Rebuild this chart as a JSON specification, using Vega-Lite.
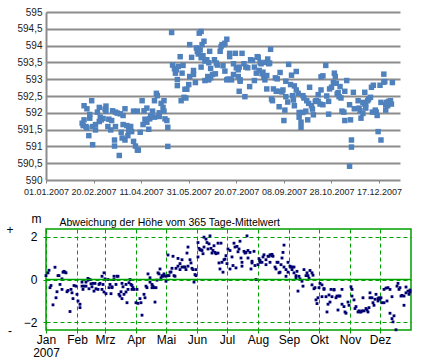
{
  "$schema": "https://vega.github.io/schema/vega-lite/v6.json",
  "background": "white",
  "padding": {"left": 5, "top": 7, "right": 5, "bottom": 5},
  "bounds": "flush",
  "spacing": 49,
  "config": {"view": {"stroke": null}, "font": "Liberation Sans"},
  "datasets": {
    "level": [
      {"day":38,"level":591.69},{"day":40,"level":592.21},{"day":43,"level":592.12},{"day":40,"level":591.79},{"day":39,"level":591.62},
      {"day":42,"level":591.59},{"day":43,"level":591.55},{"day":46,"level":591.84},{"day":46,"level":591.95},{"day":48,"level":592.36},
      {"day":45,"level":591.32},{"day":49,"level":591.59},{"day":49,"level":591.05},{"day":52,"level":591.49},{"day":52,"level":591.65},
      {"day":54,"level":592.02},{"day":56,"level":592.16},{"day":56,"level":591.74},{"day":57,"level":591.87},{"day":58,"level":591.79},
      {"day":60,"level":591.83},{"day":62,"level":592.11},{"day":63,"level":592.2},{"day":63,"level":592.05},{"day":65,"level":591.59},
      {"day":66,"level":591.81},{"day":68,"level":591.49},{"day":69,"level":591.77},{"day":70,"level":592.06},{"day":72,"level":591.19},
      {"day":72,"level":591.01},{"day":73,"level":591.59},{"day":73,"level":592.02},{"day":75,"level":591.99},{"day":77,"level":590.73},
      {"day":78,"level":591.97},{"day":79,"level":591.42},{"day":80,"level":591.25},{"day":81,"level":591.65},{"day":81,"level":591.92},
      {"day":83,"level":592.12},{"day":83,"level":591.19},{"day":85,"level":591.62},{"day":86,"level":591.32},{"day":87,"level":591.47},
      {"day":88,"level":591.59},{"day":89,"level":591.59},{"day":90,"level":591.44},{"day":92,"level":592.05},{"day":92,"level":591.15},
      {"day":94,"level":591.01},{"day":96,"level":590.89},{"day":97,"level":590.89},{"day":96,"level":592.05},{"day":99,"level":591.42},
      {"day":101,"level":592.36},{"day":102,"level":591.65},{"day":104,"level":591.81},{"day":103,"level":592.06},{"day":106,"level":592.14},
      {"day":106,"level":591.72},{"day":108,"level":591.51},{"day":109,"level":591.82},{"day":110,"level":591.9},{"day":111,"level":591.92},
      {"day":112,"level":592.05},{"day":114,"level":591.87},{"day":114,"level":592.36},{"day":116,"level":592.58},{"day":117,"level":592.51},
      {"day":119,"level":591.89},{"day":119,"level":592.0},{"day":121,"level":592.28},{"day":123,"level":592.16},{"day":124,"level":592.36},
      {"day":125,"level":591.82},{"day":124,"level":592.05},{"day":127,"level":591.77},{"day":128,"level":591.57},{"day":128,"level":591.0},
      {"day":132,"level":594.39},{"day":133,"level":593.42},{"day":135,"level":593.31},{"day":136,"level":593.18},{"day":137,"level":593.28},
      {"day":139,"level":593.38},{"day":141,"level":593.67},{"day":143,"level":593.18},{"day":144,"level":593.41},{"day":138,"level":592.81},
      {"day":138,"level":592.99},{"day":142,"level":592.36},{"day":146,"level":592.7},{"day":148,"level":592.7},{"day":145,"level":592.46},
      {"day":147,"level":592.44},{"day":150,"level":592.84},{"day":151,"level":593.08},{"day":153,"level":593.65},{"day":151,"level":594.03},
      {"day":155,"level":593.26},{"day":155,"level":593.14},{"day":157,"level":592.9},{"day":158,"level":593.93},{"day":159,"level":593.83},
      {"day":160,"level":593.75},{"day":161,"level":594.37},{"day":163,"level":594.42},{"day":162,"level":593.87},{"day":160,"level":593.89},
      {"day":164,"level":594.03},{"day":165,"level":593.7},{"day":166,"level":594.13},{"day":163,"level":593.64},{"day":163,"level":593.36},
      {"day":167,"level":593.54},{"day":169,"level":593.58},{"day":171,"level":593.49},{"day":172,"level":593.83},{"day":173,"level":593.32},
      {"day":167,"level":592.96},{"day":170,"level":593.08},{"day":171,"level":592.98},{"day":173,"level":593.04},{"day":175,"level":593.14},
      {"day":177,"level":593.58},{"day":178,"level":593.16},{"day":179,"level":593.48},{"day":180,"level":593.42},{"day":183,"level":593.83},
      {"day":184,"level":593.97},{"day":186,"level":593.4},{"day":185,"level":594.03},{"day":187,"level":594.03},{"day":188,"level":594.07},
      {"day":190,"level":594.19},{"day":188,"level":593.24},{"day":190,"level":592.98},{"day":191,"level":593.0},{"day":193,"level":593.77},
      {"day":193,"level":593.67},{"day":193,"level":593.0},{"day":195,"level":592.98},{"day":197,"level":593.46},{"day":197,"level":593.14},
      {"day":199,"level":593.77},{"day":200,"level":593.34},{"day":202,"level":593.28},{"day":203,"level":593.36},{"day":202,"level":593.08},
      {"day":204,"level":592.98},{"day":204,"level":592.94},{"day":203,"level":592.64},{"day":206,"level":593.77},{"day":208,"level":593.46},
      {"day":210,"level":593.36},{"day":209,"level":592.48},{"day":212,"level":593.34},{"day":214,"level":592.78},{"day":215,"level":593.58},
      {"day":217,"level":593.56},{"day":219,"level":592.96},{"day":219,"level":593.36},{"day":221,"level":593.18},{"day":222,"level":593.67},
      {"day":223,"level":593.65},{"day":224,"level":593.26},{"day":225,"level":593.5},{"day":226,"level":593.46},{"day":227,"level":593.16},
      {"day":228,"level":593.21},{"day":229,"level":593.06},{"day":230,"level":592.98},{"day":231,"level":593.5},{"day":232,"level":593.11},
      {"day":233,"level":593.6},{"day":234,"level":593.46},{"day":236,"level":593.89},{"day":235,"level":593.48},{"day":232,"level":592.71},
      {"day":237,"level":592.41},{"day":238,"level":592.36},{"day":239,"level":592.71},{"day":241,"level":593.04},{"day":242,"level":592.64},
      {"day":243,"level":593.01},{"day":245,"level":592.64},{"day":245,"level":592.18},{"day":246,"level":593.2},{"day":248,"level":592.62},
      {"day":249,"level":592.68},{"day":250,"level":591.77},{"day":251,"level":592.08},{"day":252,"level":592.94},{"day":252,"level":592.48},
      {"day":254,"level":592.32},{"day":255,"level":593.44},{"day":257,"level":592.84},{"day":258,"level":593.12},{"day":259,"level":592.51},
      {"day":260,"level":592.38},{"day":261,"level":592.8},{"day":261,"level":592.21},{"day":263,"level":593.23},{"day":263,"level":592.68},
      {"day":266,"level":592.01},{"day":266,"level":591.87},{"day":265,"level":592.58},{"day":268,"level":591.57},{"day":268,"level":591.72},
      {"day":270,"level":592.01},{"day":270,"level":592.51},{"day":271,"level":592.44},{"day":273,"level":592.05},{"day":274,"level":592.36},
      {"day":275,"level":591.79},{"day":276,"level":592.28},{"day":277,"level":592.76},{"day":279,"level":592.21},{"day":280,"level":592.11},
      {"day":281,"level":591.94},{"day":283,"level":592.34},{"day":284,"level":592.36},{"day":286,"level":592.54},{"day":286,"level":592.34},
      {"day":288,"level":592.26},{"day":289,"level":592.68},{"day":289,"level":593.07},{"day":291,"level":593.1},{"day":291,"level":592.24},
      {"day":294,"level":593.41},{"day":295,"level":592.5},{"day":297,"level":592.34},{"day":297,"level":591.96},{"day":298,"level":592.71},
      {"day":300,"level":592.76},{"day":302,"level":592.9},{"day":303,"level":593.18},{"day":304,"level":593.08},{"day":305,"level":592.88},
      {"day":306,"level":592.56},{"day":307,"level":592.6},{"day":308,"level":592.48},{"day":309,"level":592.78},{"day":310,"level":592.44},
      {"day":311,"level":592.05},{"day":313,"level":592.02},{"day":314,"level":592.64},{"day":314,"level":591.77},{"day":316,"level":592.96},
      {"day":319,"level":592.24},{"day":320,"level":591.79},{"day":319,"level":590.41},{"day":321,"level":591.19},{"day":321,"level":590.98},
      {"day":323,"level":592.61},{"day":324,"level":592.12},{"day":328,"level":592.36},{"day":329,"level":592.14},{"day":330,"level":592.06},
      {"day":331,"level":591.84},{"day":333,"level":592.31},{"day":333,"level":591.98},{"day":335,"level":592.61},{"day":335,"level":592.26},
      {"day":336,"level":592.14},{"day":336,"level":592.26},{"day":338,"level":592.36},{"day":339,"level":592.41},{"day":341,"level":592.46},
      {"day":342,"level":592.76},{"day":343,"level":592.02},{"day":344,"level":592.82},{"day":346,"level":592.08},{"day":347,"level":592.02},
      {"day":348,"level":591.92},{"day":349,"level":591.44},{"day":351,"level":592.82},{"day":352,"level":592.31},{"day":352,"level":591.19},
      {"day":355,"level":593.15},{"day":356,"level":592.93},{"day":355,"level":592.91},{"day":357,"level":592.24},{"day":358,"level":592.31},
      {"day":359,"level":592.21},{"day":360,"level":592.34},{"day":362,"level":592.36},{"day":363,"level":592.26},{"day":364,"level":592.9},
      {"day":357,"level":592.08}
    ],
    "dev": [
      {"day":0,"dev":0.18},{"day":2,"dev":0.31},{"day":3,"dev":0.43},{"day":4,"dev":-0.38},{"day":5,"dev":-0.28},{"day":7,"dev":-1.18},
      {"day":9,"dev":0.57},{"day":10,"dev":-0.85},{"day":11,"dev":-0.57},{"day":12,"dev":0.18},{"day":13,"dev":0.18},{"day":14,"dev":-0.23},
      {"day":16,"dev":0.03},{"day":16,"dev":-0.46},{"day":17,"dev":0.34},{"day":18,"dev":0.38},{"day":19,"dev":0.34},{"day":20,"dev":0.31},
      {"day":21,"dev":-0.57},{"day":22,"dev":-0.51},{"day":24,"dev":-1.49},{"day":25,"dev":-0.46},{"day":26,"dev":-0.62},{"day":27,"dev":-0.89},
      {"day":28,"dev":-0.28},{"day":30,"dev":-0.31},{"day":31,"dev":-0.69},{"day":32,"dev":-1.0},{"day":34,"dev":-1.31},{"day":34,"dev":-1.15},
      {"day":36,"dev":-0.31},{"day":36,"dev":-0.12},{"day":37,"dev":-0.46},{"day":38,"dev":-0.31},{"day":40,"dev":-0.31},{"day":40,"dev":-0.12},
      {"day":42,"dev":0.05},{"day":42,"dev":-0.03},{"day":43,"dev":-0.43},{"day":44,"dev":0.0},{"day":45,"dev":-0.2},{"day":46,"dev":-0.34},
      {"day":47,"dev":-0.18},{"day":48,"dev":-0.54},{"day":49,"dev":-0.18},{"day":50,"dev":-0.43},{"day":52,"dev":-0.46},{"day":53,"dev":-0.23},
      {"day":54,"dev":-0.18},{"day":56,"dev":0.15},{"day":56,"dev":-0.46},{"day":57,"dev":-0.23},{"day":58,"dev":0.31},{"day":58,"dev":-0.58},
      {"day":59,"dev":0.03},{"day":60,"dev":-0.66},{"day":62,"dev":0.0},{"day":63,"dev":-0.38},{"day":64,"dev":-0.23},{"day":65,"dev":-0.66},
      {"day":66,"dev":-0.34},{"day":66,"dev":-0.38},{"day":68,"dev":0.0},{"day":68,"dev":0.15},{"day":70,"dev":-0.23},{"day":71,"dev":0.15},
      {"day":72,"dev":0.15},{"day":73,"dev":-0.69},{"day":74,"dev":-0.77},{"day":75,"dev":-0.57},{"day":76,"dev":-0.18},{"day":76,"dev":-0.89},
      {"day":77,"dev":-0.34},{"day":78,"dev":-0.69},{"day":80,"dev":-0.58},{"day":80,"dev":-0.23},{"day":81,"dev":-1.08},{"day":82,"dev":-0.46},
      {"day":83,"dev":-0.15},{"day":84,"dev":0.0},{"day":85,"dev":-0.23},{"day":86,"dev":-0.46},{"day":86,"dev":-0.28},{"day":87,"dev":-0.38},
      {"day":88,"dev":-0.46},{"day":90,"dev":-1.08},{"day":91,"dev":-0.46},{"day":92,"dev":-1.11},{"day":94,"dev":-0.89},{"day":95,"dev":-1.08},
      {"day":96,"dev":-1.66},{"day":98,"dev":-0.69},{"day":99,"dev":-0.85},{"day":100,"dev":-0.31},{"day":101,"dev":-0.38},{"day":102,"dev":0.26},
      {"day":104,"dev":0.08},{"day":104,"dev":-0.12},{"day":106,"dev":-0.23},{"day":106,"dev":-0.38},{"day":107,"dev":-0.31},{"day":108,"dev":-0.38},
      {"day":109,"dev":-1.05},{"day":110,"dev":-0.38},{"day":111,"dev":-0.03},{"day":112,"dev":0.31},{"day":113,"dev":0.26},{"day":114,"dev":0.49},
      {"day":115,"dev":0.08},{"day":116,"dev":0.18},{"day":117,"dev":0.15},{"day":118,"dev":0.26},{"day":118,"dev":0.18},{"day":120,"dev":-0.08},
      {"day":120,"dev":0.15},{"day":122,"dev":0.18},{"day":123,"dev":0.18},{"day":122,"dev":1.14},{"day":124,"dev":0.34},{"day":125,"dev":0.35},
      {"day":126,"dev":0.52},{"day":127,"dev":1.08},{"day":128,"dev":0.18},{"day":129,"dev":0.15},{"day":130,"dev":0.52},{"day":132,"dev":0.98},
      {"day":132,"dev":0.62},{"day":134,"dev":0.46},{"day":134,"dev":0.74},{"day":136,"dev":0.92},{"day":136,"dev":0.58},{"day":138,"dev":0.58},
      {"day":139,"dev":0.58},{"day":140,"dev":0.46},{"day":141,"dev":1.23},{"day":142,"dev":1.51},{"day":142,"dev":0.62},{"day":144,"dev":0.92},
      {"day":145,"dev":0.77},{"day":146,"dev":0.52},{"day":147,"dev":0.46},{"day":148,"dev":-0.12},{"day":149,"dev":0.23},{"day":150,"dev":0.18},
      {"day":150,"dev":0.46},{"day":152,"dev":1.72},{"day":152,"dev":1.05},{"day":153,"dev":1.45},{"day":154,"dev":1.38},{"day":155,"dev":1.38},
      {"day":156,"dev":1.35},{"day":157,"dev":1.2},{"day":158,"dev":1.51},{"day":158,"dev":1.97},{"day":160,"dev":1.88},{"day":161,"dev":1.72},
      {"day":162,"dev":1.42},{"day":163,"dev":1.66},{"day":164,"dev":2.03},{"day":165,"dev":1.45},{"day":166,"dev":1.23},{"day":167,"dev":1.35},
      {"day":168,"dev":1.57},{"day":169,"dev":1.26},{"day":170,"dev":1.2},{"day":172,"dev":1.23},{"day":172,"dev":1.69},{"day":173,"dev":0.77},
      {"day":174,"dev":0.49},{"day":175,"dev":1.69},{"day":176,"dev":0.8},{"day":177,"dev":0.34},{"day":178,"dev":0.92},{"day":179,"dev":0.95},
      {"day":180,"dev":1.11},{"day":181,"dev":0.74},{"day":182,"dev":1.42},{"day":184,"dev":1.35},{"day":184,"dev":0.49},{"day":186,"dev":1.05},
      {"day":187,"dev":0.65},{"day":188,"dev":1.69},{"day":189,"dev":1.51},{"day":190,"dev":0.54},{"day":191,"dev":1.54},{"day":192,"dev":1.29},
      {"day":193,"dev":1.42},{"day":194,"dev":1.78},{"day":195,"dev":1.0},{"day":196,"dev":0.62},{"day":196,"dev":0.8},{"day":198,"dev":1.31},
      {"day":199,"dev":1.23},{"day":200,"dev":1.26},{"day":201,"dev":2.03},{"day":202,"dev":1.35},{"day":202,"dev":1.0},{"day":204,"dev":1.26},
      {"day":205,"dev":0.49},{"day":206,"dev":0.85},{"day":206,"dev":0.77},{"day":208,"dev":1.31},{"day":209,"dev":0.65},{"day":210,"dev":0.0},
      {"day":212,"dev":0.69},{"day":213,"dev":0.97},{"day":214,"dev":0.89},{"day":214,"dev":0.8},{"day":216,"dev":0.8},{"day":217,"dev":1.05},
      {"day":218,"dev":1.15},{"day":220,"dev":0.69},{"day":220,"dev":0.92},{"day":222,"dev":1.08},{"day":223,"dev":1.08},{"day":224,"dev":0.8},
      {"day":224,"dev":1.15},{"day":226,"dev":1.11},{"day":226,"dev":1.17},{"day":227,"dev":1.08},{"day":229,"dev":0.58},{"day":230,"dev":0.49},
      {"day":231,"dev":0.8},{"day":232,"dev":0.8},{"day":233,"dev":0.31},{"day":234,"dev":0.34},{"day":235,"dev":0.69},{"day":236,"dev":1.0},
      {"day":237,"dev":1.26},{"day":238,"dev":1.6},{"day":238,"dev":0.58},{"day":240,"dev":0.15},{"day":240,"dev":0.46},{"day":242,"dev":0.34},
      {"day":242,"dev":0.8},{"day":244,"dev":0.62},{"day":245,"dev":0.58},{"day":246,"dev":0.58},{"day":246,"dev":0.46},{"day":248,"dev":0.58},
      {"day":248,"dev":0.31},{"day":250,"dev":0.08},{"day":250,"dev":0.18},{"day":251,"dev":0.38},{"day":252,"dev":-0.54},{"day":253,"dev":0.15},
      {"day":254,"dev":0.03},{"day":256,"dev":-0.08},{"day":257,"dev":-0.31},{"day":258,"dev":0.46},{"day":260,"dev":0.18},{"day":261,"dev":0.31},
      {"day":262,"dev":0.18},{"day":263,"dev":0.06},{"day":264,"dev":0.42},{"day":266,"dev":0.31},{"day":266,"dev":-0.25},{"day":267,"dev":0.2},
      {"day":268,"dev":-0.43},{"day":269,"dev":-0.38},{"day":270,"dev":-0.95},{"day":271,"dev":-1.12},{"day":272,"dev":-0.85},{"day":273,"dev":-0.38},
      {"day":274,"dev":-0.18},{"day":276,"dev":-0.25},{"day":276,"dev":-0.8},{"day":278,"dev":-0.42},{"day":278,"dev":-0.46},{"day":280,"dev":-0.8},
      {"day":281,"dev":-1.51},{"day":282,"dev":-1.15},{"day":283,"dev":-0.72},{"day":284,"dev":-1.05},{"day":285,"dev":-0.46},{"day":286,"dev":-0.8},
      {"day":288,"dev":-0.46},{"day":288,"dev":-0.49},{"day":290,"dev":-0.85},{"day":291,"dev":-0.77},{"day":292,"dev":-1.42},{"day":293,"dev":-0.77},
      {"day":294,"dev":-0.77},{"day":296,"dev":-0.46},{"day":296,"dev":-1.15},{"day":298,"dev":-1.26},{"day":299,"dev":-1.51},{"day":300,"dev":-1.57},
      {"day":302,"dev":-1.05},{"day":303,"dev":-1.2},{"day":305,"dev":-0.34},{"day":306,"dev":-0.77},{"day":306,"dev":-0.46},{"day":308,"dev":-0.95},
      {"day":309,"dev":-1.35},{"day":310,"dev":-1.26},{"day":312,"dev":-1.51},{"day":313,"dev":-1.46},{"day":314,"dev":-1.51},{"day":315,"dev":-1.51},
      {"day":316,"dev":-1.46},{"day":317,"dev":-0.85},{"day":318,"dev":-1.46},{"day":320,"dev":-1.35},{"day":321,"dev":-1.42},{"day":322,"dev":-1.51},
      {"day":323,"dev":-1.31},{"day":324,"dev":-0.62},{"day":324,"dev":-0.85},{"day":326,"dev":-0.85},{"day":327,"dev":-1.08},{"day":328,"dev":-1.2},
      {"day":329,"dev":-0.92},{"day":330,"dev":-0.69},{"day":332,"dev":-1.0},{"day":332,"dev":-0.89},{"day":333,"dev":-0.85},{"day":334,"dev":-0.92},
      {"day":335,"dev":-0.85},{"day":336,"dev":-1.08},{"day":338,"dev":-1.08},{"day":338,"dev":-0.46},{"day":340,"dev":-0.4},{"day":341,"dev":-1.0},
      {"day":342,"dev":-0.38},{"day":344,"dev":-0.46},{"day":344,"dev":-1.57},{"day":346,"dev":-0.8},{"day":346,"dev":-1.82},{"day":347,"dev":-1.97},
      {"day":348,"dev":-1.69},{"day":350,"dev":-2.34},{"day":351,"dev":-0.31},{"day":352,"dev":-0.18},{"day":353,"dev":-0.46},{"day":354,"dev":-0.38},
      {"day":355,"dev":-0.77},{"day":356,"dev":-0.74},{"day":358,"dev":-1.2},{"day":358,"dev":-0.77},{"day":360,"dev":-0.62},{"day":360,"dev":-0.35},
      {"day":362,"dev":-0.54},{"day":363,"dev":-0.69},{"day":364,"dev":-0.49},{"day":364,"dev":-0.58}
    ]
  },
  "vconcat": [
    {
      "width": 354,
      "height": 168,
      "view": {"stroke": null},
      "data": {"name": "level"},
      "mark": {"type": "point", "shape": "square", "filled": true, "size": 30, "color": "#4F81BD", "opacity": 1},
      "encoding": {
        "x": {
          "field": "day", "type": "quantitative",
          "scale": {"domain": [0, 372], "nice": false, "zero": false},
          "axis": {
            "title": null, "values": [0, 50, 100, 150, 200, 250, 300, 350], "tickCount": 20,
            "labelExpr": "timeFormat(datetime(2007, 0, 1 + datum.value), '%d.%m.%Y')",
            "grid": false, "domain": false, "ticks": true, "tickColor": "#868686", "tickSize": 3,
            "labelFont": "Liberation Sans", "labelFontSize": 9, "labelColor": "#222", "labelOverlap": false, "labelFlush": false, "labelPadding": 4
          }
        },
        "y": {
          "field": "level", "type": "quantitative",
          "scale": {"domain": [590, 595], "nice": false, "zero": false},
          "axis": {
            "title": null, "values": [590, 590.5, 591, 591.5, 592, 592.5, 593, 593.5, 594, 594.5, 595], "tickCount": 20,
            "labelExpr": "replace(toString(datum.value), '.', ',')",
            "grid": true, "gridColor": "#8C8C8C", "gridWidth": 2,
            "domain": true, "domainColor": "#8C8C8C", "domainWidth": 2, "ticks": false,
            "labelFont": "Liberation Sans", "labelFontSize": 10, "labelColor": "#222", "labelPadding": 4
          }
        }
      }
    },
    {
      "width": 365,
      "height": 101,
      "view": {"stroke": "#00A000", "strokeWidth": 1.5},
      "title": {"text": "Abweichung der Höhe vom 365 Tage-Mittelwert", "anchor": "start", "dx": 53, "offset": -16, "font": "Liberation Sans", "fontSize": 10.5, "fontWeight": "normal", "color": "#000"},
      "layer": [
        {
          "data": {"name": "dev"},
          "mark": {"type": "square", "size": 8, "color": "#000070", "opacity": 1},
          "encoding": {
            "x": {
              "field": "day", "type": "quantitative",
              "scale": {"domain": [0, 365], "nice": false, "zero": false},
              "axis": {
                "title": null, "values": [0, 31, 59, 90, 120, 151, 181, 212, 243, 273, 304, 334], "tickCount": 30,
                "labelExpr": "datum.value == 0 ? ['Jan', '2007'] : ['Jan','Feb','Mrz','Apr','Mai','Jun','Jul','Aug','Sep','Okt','Nov','Dez'][indexof([0,31,59,90,120,151,181,212,243,273,304,334], datum.value)]",
                "grid": true, "gridColor": "#00A000", "gridDash": [4, 3], "gridWidth": 1,
                "domain": false, "tickColor": "#00A000", "tickSize": 3,
                "labelFont": "Liberation Sans", "labelFontSize": 12, "labelColor": "#000", "labelPadding": 1, "labelOverlap": false, "labelFlush": false, "labelLineHeight": 13
              }
            },
            "y": {
              "field": "dev", "type": "quantitative",
              "scale": {"domain": [-2.35, 2.35], "nice": false, "zero": false},
              "axis": {
                "values": [-2, -1, 0, 1, 2],
                "grid": true, "gridColor": "#00A000", "gridDash": [4, 3], "gridWidth": 1,
                "domain": false, "tickColor": "#00A000", "tickSize": 3,
                "labelFont": "Liberation Sans", "labelFontSize": 12, "labelColor": "#000", "labelPadding": 6,
                "title": "m", "titleAngle": 0, "titleAlign": "center", "titleBaseline": "alphabetic", "titleX": -10, "titleY": -7,
                "titleFont": "Liberation Sans", "titleFontSize": 12, "titleFontWeight": "normal", "titleColor": "#000"
              }
            }
          }
        },
        {
          "data": {"values": [{}]},
          "mark": {"type": "rule", "color": "#00A000", "strokeWidth": 1.5},
          "encoding": {"y": {"datum": 0}}
        },
        {
          "data": {"values": [{"sign": "+", "pos": 2.3}, {"sign": "-", "pos": -2.4}]},
          "mark": {"type": "text", "font": "Liberation Sans", "fontSize": 12, "color": "#000", "align": "center", "baseline": "middle"},
          "encoding": {"x": {"datum": -36}, "y": {"field": "pos", "type": "quantitative"}, "text": {"field": "sign"}}
        }
      ]
    }
  ]
}
